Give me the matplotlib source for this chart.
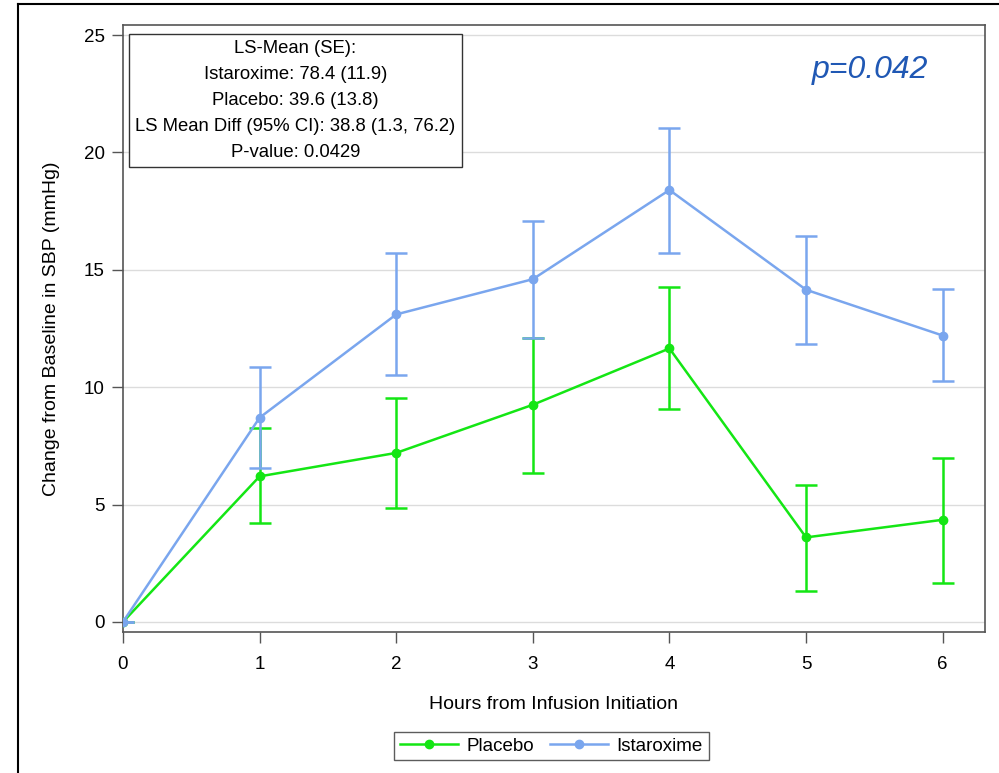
import matplotlib
matplotlib.use("Agg")
import matplotlib.pyplot as plt
from matplotlib.lines import Line2D

plt.rcParams['font.family'] = ['Liberation Sans', 'DejaVu Sans']

hours = [0, 1, 2, 3, 4, 5, 6]

ist_mean = [0, 8.7, 13.1, 14.6, 18.4, 14.15, 12.2]
ist_low = [0, 6.55, 10.5, 12.1, 15.7, 11.85, 10.25]
ist_high = [0, 10.85, 15.7, 17.1, 21.05, 16.45, 14.2]

pla_mean = [0, 6.2, 7.2, 9.25, 11.65, 3.6, 4.35]
pla_low = [0, 4.2, 4.85, 6.35, 9.05, 1.3, 1.65]
pla_high = [0, 8.25, 9.55, 12.1, 14.25, 5.85, 7.0]

stats_lines = [
    "LS-Mean (SE):",
    "Istaroxime: 78.4 (11.9)",
    "Placebo: 39.6 (13.8)",
    "LS Mean Diff (95% CI): 38.8 (1.3, 76.2)",
    "P-value: 0.0429",
]
p_text = "p=0.042"

green = '#14e614'
blue = '#7aa6ee'

fig = plt.figure(figsize=(9.99, 7.73), dpi=100)
ax = fig.add_axes([0.1231, 0.1824, 0.986 - 0.1231, 0.9677 - 0.1824])

def draw(mean, low, high, color, z):
    yerr = [[m - l for m, l in zip(mean, low)], [h - m for m, h in zip(mean, high)]]
    ax.errorbar(hours, mean, yerr=yerr, color=color, lw=1.8, marker='o', ms=6,
                capsize=8, capthick=1.8, elinewidth=1.8, zorder=z)

draw(pla_mean, pla_low, pla_high, green, 3)
draw(ist_mean, ist_low, ist_high, blue, 4)

ax.set_xlim(0, 6.31)
ax.set_ylim(-0.43, 25.43)
ax.set_xticks(hours)
ax.set_yticks([0, 5, 10, 15, 20, 25])
ax.yaxis.grid(True, color='#dcdcdc', lw=1)
ax.set_axisbelow(True)
for s in ax.spines.values():
    s.set_color('#555555')
    s.set_linewidth(1.2)
ax.tick_params(direction='out', length=8, width=1, color='#555555', labelsize=13.5, pad=5)
ax.tick_params(axis='x', pad=9)

ax.set_xlabel('Hours from Infusion Initiation', fontsize=14, labelpad=17)
ax.set_ylabel('Change from Baseline in SBP (mmHg)', fontsize=14, labelpad=17)

# stats box
ax.text(0.2, 0.975, "\n".join(stats_lines), transform=ax.transAxes, ha='center', va='top',
        fontsize=13.3, linespacing=1.68,
        bbox=dict(boxstyle='square,pad=0.35', fc='white', ec='#333333', lw=1))

ax.text(0.866, 0.926, p_text, transform=ax.transAxes, ha='center', va='center',
        fontsize=23, style='italic', color='#2058b4')

handles = [Line2D([], [], color=green, lw=1.8, marker='o', ms=6),
           Line2D([], [], color=blue, lw=1.8, marker='o', ms=6)]
leg = ax.legend(handles, ['Placebo', 'Istaroxime'], loc='center', bbox_to_anchor=(0.497, -0.188),
                ncol=2, fontsize=13.5, frameon=True, fancybox=False, edgecolor='#333333',
                handlelength=3.1, borderpad=0.3, columnspacing=0.85, handletextpad=0.45)
leg.get_frame().set_linewidth(1)

fig.add_artist(Line2D([0.018, 1.0], [0.9945, 0.9945], transform=fig.transFigure, color='black', lw=1.5))
fig.add_artist(Line2D([0.018, 0.018], [0.0, 0.9945], transform=fig.transFigure, color='black', lw=1.5))

fig.savefig('out.png', dpi=100)
